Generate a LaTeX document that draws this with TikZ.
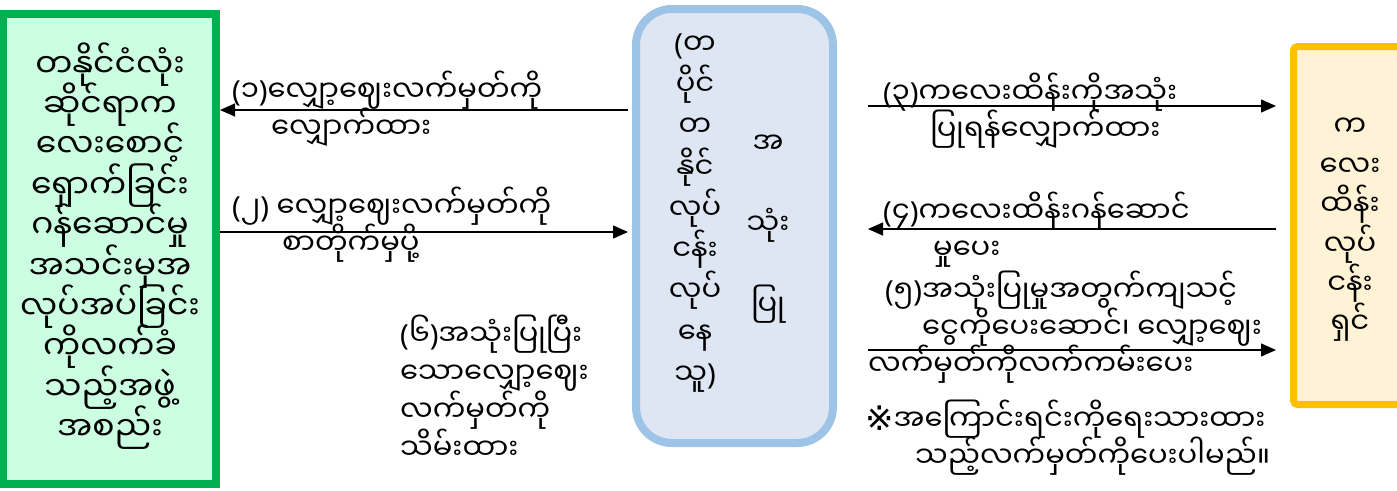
\documentclass[tikz,border=0pt]{standalone}
\usepackage{fontspec}
\newfontfamily\mmfont[Script=Myanmar]{Noto Sans Myanmar UI}
\newfontfamily\parfont{Noto Sans}
\newfontfamily\symfont{DejaVu Sans}
\newcommand{\po}{{\parfont(}}
\newcommand{\pc}{{\parfont)}}
\lineskiplimit=-100pt
\usetikzlibrary{arrows.meta,calc}

\definecolor{orgline}{HTML}{00B050}
\definecolor{orgfill}{HTML}{CCFFE2}
\definecolor{userline}{HTML}{9DC3E6}
\definecolor{userfill}{HTML}{DEE6F4}
\definecolor{sitterline}{HTML}{FFC000}
\definecolor{sitterfill}{HTML}{FFF2D5}

\tikzset{
  mm/.style={font=\mmfont\fontsize{29}{37}\selectfont, inner sep=0pt, align=left},
  party/.style={line width=8pt, inner sep=0pt},
  flow/.style={line width=1.3pt, -{Triangle[length=15pt,width=13pt]}},
}

\begin{document}
\begin{tikzpicture}[x=1pt,y=-1pt]
    \useasboundingbox (0,0) rectangle (1397,490);

    % --- the three parties ---
    \node[party, draw=orgline, fill=orgfill, minimum width=213pt, minimum height=470pt] (org) at (109.5,249) {};
    \node[mm, align=center, font=\mmfont\fontsize{33}{40.4}\selectfont] (orgT) at (110,246)
        {တနိုင်ငံလုံး\\ဆိုင်ရာက\\လေးစောင့်\\ရှောက်ခြင်း\\ဂန်ဆောင်မှု\\အသင်းမှအ\\လုပ်အပ်ခြင်း\\ကိုလက်ခံ\\သည့်အဖွဲ့\\အစည်း};

    \node[party, draw=userline, fill=userfill, rounded corners=36pt,
          minimum width=197pt, minimum height=434pt] (user) at (734.5,226) {};
    \node[mm, align=center, font=\mmfont\fontsize{29}{41.25}\selectfont] (userA) at (695,213)
        {\po တ\\ပိုင်\\တ\\နိုင်\\လုပ်\\ငန်း\\လုပ်\\နေ\\သူ\pc};
    \node[mm, align=center, font=\mmfont\fontsize{29}{81}\selectfont] (userB) at (768,229)
        {အ\\သုံး\\ပြု};

    \node[party, line width=7pt, draw=sitterline, fill=sitterfill, rounded corners=4pt,
          minimum width=130pt, minimum height=358pt] (sitter) at (1358.5,225.5) {};
    \node[mm, align=center, font=\mmfont\fontsize{29}{39.4}\selectfont] (sitterT) at (1350,230)
        {က\\လေး\\ထိန်း\\လုပ်\\ငန်း\\ရှင်};

    % --- exchanges ---
    \coordinate (y1) at (0,110); \coordinate (y2) at (0,232);
    \coordinate (y3) at (0,106); \coordinate (y4) at (0,229); \coordinate (y5) at (0,350);

    \draw[flow] ($(user.west |- y1)+(-4,0)$) -- (org.east |- y1);
    \draw[flow] (org.east |- y2) -- ($(user.west |- y2)+(-4,0)$);
    \draw[flow] ($(user.east |- y3)+(31,0)$) -- ($(sitter.west |- y3)+(-14,0)$);
    \draw[flow] ($(sitter.west |- y4)+(-14,0)$) -- ($(user.east |- y4)+(31,0)$);
    \draw[flow] ($(user.east |- y5)+(31,0)$) -- ($(sitter.west |- y5)+(-14,0)$);

    \node[mm, anchor=west] (m1) at (232,109) {\po ၁\pc လျှော့ဈေးလက်မှတ်ကို\\\hspace*{39pt}လျှောက်ထား};
    \node[mm, anchor=west] (m2) at (232,225) {\po ၂\pc{} လျှော့ဈေးလက်မှတ်ကို\\\hspace*{50pt}စာတိုက်မှပို့};
    \node[mm, anchor=west] (m3) at (883,111) {\po ၃\pc ကလေးထိန်းကိုအသုံး\\\hspace*{47pt}ပြုရန်လျှောက်ထား};
    \node[mm, anchor=west] (m4) at (883,230) {\po ၄\pc ကလေးထိန်းဂန်ဆောင်\\\hspace*{50pt}မှုပေး};
    \node[mm, anchor=west] (m5) at (868,327) {\hspace*{17pt}\po ၅\pc အသုံးပြုမှုအတွက်ကျသင့်\\\hspace*{54pt}ငွေကိုပေးဆောင်၊ လျှော့ဈေး\\လက်မှတ်ကိုလက်ကမ်းပေး};
    \node[mm, anchor=west] (note) at (865,438) {{\symfont\fontsize{34}{37}\selectfont ※}အကြောင်းရင်းကိုရေးသားထား\\\hspace*{50pt}သည့်လက်မှတ်ကိုပေးပါမည်။};
    \node[mm, anchor=west, font=\mmfont\fontsize{29}{38}\selectfont] (m6) at (400,387) {\po ၆\pc အသုံးပြုပြီး\\သောလျှော့ဈေး\\လက်မှတ်ကို\\သိမ်းထား};
\end{tikzpicture}
\end{document}
